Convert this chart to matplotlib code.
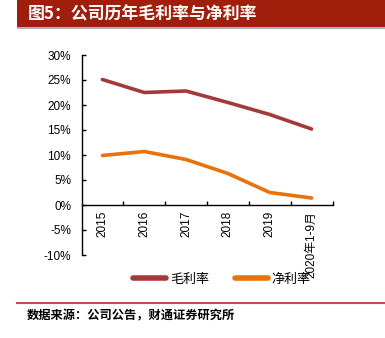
import matplotlib
matplotlib.use("Agg")
import matplotlib.pyplot as plt
from matplotlib.patches import Rectangle
from matplotlib.lines import Line2D

plt.rcParams['font.family'] = ['Liberation Sans', 'Noto Sans CJK SC', 'DejaVu Sans']

categories = ["2015", "2016", "2017", "2018", "2019", "2020年1-9月"]
gross_margin = [25.1, 22.5, 22.8, 20.5, 18.1, 15.2]
net_margin = [9.9, 10.7, 9.1, 6.3, 2.5, 1.4]
yticks = [-10, -5, 0, 5, 10, 15, 20, 25, 30]
title = "图5：公司历年毛利率与净利率"
source = "数据来源：公司公告，财通证券研究所"
series_names = ["毛利率", "净利率"]
colors = ["#A33A3A", "#E8720C"]

W, H = 385, 338
fig = plt.figure(figsize=(W / 100, H / 100), dpi=100)

# title banner
fig.patches.append(Rectangle((17 / W, 1 - 27 / H), 1 - 17 / W, 27 / H,
                             transform=fig.transFigure, facecolor="#A01E0C",
                             edgecolor="none", zorder=0))
fig.patches.append(Rectangle((17 / W, 1 - 28.5 / H), 1 - 17 / W, 1.5 / H,
                             transform=fig.transFigure, facecolor="#B0B0B0",
                             edgecolor="none", zorder=-1))
fig.text(28 / W, 1 - 14 / H, title, color="white", fontsize=12.2, fontweight="bold",
         va="center", ha="left", family=['Noto Sans CJK SC', 'DejaVu Sans'])

# bottom rule and source
fig.add_artist(Line2D([17 / W, 1], [1 - 302.5 / H] * 2, transform=fig.transFigure,
                      color="#C0504D", lw=1.5))
fig.text(27 / W, 1 - 316 / H, source, color="black", fontsize=8.8, fontweight="bold",
         va="center", ha="left", family=['Noto Sans CJK SC', 'DejaVu Sans'])

ax = fig.add_axes([81.5 / W, 1 - 255 / H, (332.5 - 81.5) / W, 200 / H])
x = list(range(len(categories)))
l1, = ax.plot(x, gross_margin, color=colors[0], lw=2.6, solid_capstyle="round")
l2, = ax.plot(x, net_margin, color=colors[1], lw=2.6, solid_capstyle="round")

ax.set_xlim(-0.5, len(categories) - 0.5)
ax.set_ylim(-10, 30)
ax.set_yticks(yticks)
ax.set_yticklabels([f"{v}%" for v in yticks], fontsize=8.5)
ax.set_xticks([i + 0.5 for i in x])
ax.set_xticklabels([])
for i, c in enumerate(categories):
    ax.text(i, -1.2, c, rotation=90, ha="center", va="top", fontsize=8.5,
            family=['Liberation Sans', 'Noto Sans CJK SC'])

ax.spines['top'].set_visible(False)
ax.spines['right'].set_visible(False)
ax.spines['bottom'].set_position(('data', 0))
ax.spines['left'].set_linewidth(1.0)
ax.spines['bottom'].set_linewidth(1.0)
ax.tick_params(axis='y', direction='in', length=3, width=1, pad=7.5)
ax.tick_params(axis='x', direction='in', length=3, width=1)
ax.patch.set_alpha(0)

leg = fig.legend([l1, l2], series_names, loc="center", ncol=2,
                 bbox_to_anchor=(222 / W, 1 - 279 / H), frameon=False,
                 prop={'family': ['Noto Sans CJK SC'], 'size': 9.4},
                 handlelength=2.5, columnspacing=2.0, handletextpad=0.3)
for h in leg.legend_handles:
    h.set_linewidth(4)

fig.savefig("out.png", dpi=100)
